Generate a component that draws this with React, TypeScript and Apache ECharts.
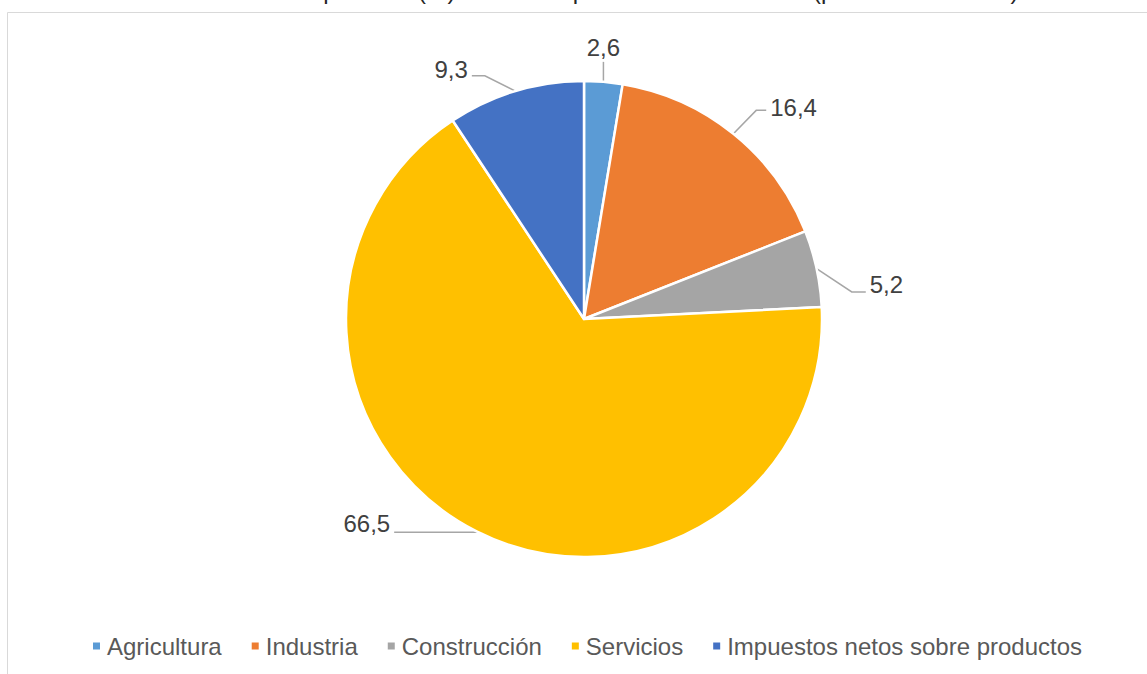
import React, { useEffect, useRef } from "react";
import * as echarts from "echarts";

const titleText = "Estructura de composición (%) del PIB departamental año 2021 (precios corrientes)";
const categories = ["Agricultura", "Industria", "Construcción", "Servicios", "Impuestos netos sobre productos"];
const values = [2.6, 16.4, 5.2, 66.5, 9.3];
const colors = ["#5B9BD5", "#ED7D31", "#A5A5A5", "#FFC000", "#4472C4"];

// leader-line styling per slice (Excel-like placement)
const lineLength = [20, 30, 36, 1, 16];
const lineLength2 = [0, 14, 14, 82, 39];
const lineShiftY = [0, 0, 31, 0, 0];
const elbowShiftX = [0, 4, 0, 0, -26];
const textRaiseY = [0, -3, -7, -9, -6];

export default function App() {
  const ref = useRef<HTMLDivElement>(null);
  useEffect(() => {
    if (!ref.current) return;
    const chart = echarts.init(ref.current, null, { renderer: "svg" });
    chart.setOption({
      animation: false,
      backgroundColor: "#ffffff",
      textStyle: { fontFamily: "Liberation Sans, Arial, sans-serif" },
      graphic: [
        {
          type: "line",
          shape: { x1: 7.5, y1: 12.5, x2: 1147, y2: 12.5 },
          style: { stroke: "#d9d9d9", lineWidth: 1 },
          silent: true,
        },
        {
          type: "line",
          shape: { x1: 7.5, y1: 12.5, x2: 7.5, y2: 674 },
          style: { stroke: "#d9d9d9", lineWidth: 1 },
          silent: true,
        },
        {
          type: "text",
          left: "center",
          top: -22,
          style: {
            text: titleText,
            fontSize: 24,
            fontFamily: "Liberation Sans, Arial, sans-serif",
            fill: "#262626",
          },
          silent: true,
        },
      ],
      legend: {
        data: categories,
        left: 86,
        top: 629,
        orient: "horizontal",
        icon: "rect",
        itemWidth: 9,
        itemHeight: 9,
        itemGap: 28,
        textStyle: { color: "#595959", fontSize: 24, padding: [0, 0, 0, 1] },
        selectedMode: false,
      },
      series: [
        {
          type: "pie",
          center: [584, 319],
          radius: 238,
          startAngle: 90,
          clockwise: true,
          avoidLabelOverlap: false,
          data: categories.map((c, i) => ({
            name: c,
            value: values[i],
            itemStyle: { color: colors[i] },
            labelLine: { length: lineLength[i], length2: lineLength2[i] },
          })),
          itemStyle: { borderColor: "#ffffff", borderWidth: 2.5 },
          label: {
            show: true,
            position: "outside",
            formatter: (p: any) => String(p.value).replace(".", ","),
            color: "#404040",
            fontSize: 24,
            fontFamily: "Liberation Sans, Arial, sans-serif",
            distanceToLabelLine: 4,
          },
          labelLine: {
            show: true,
            lineStyle: { color: "#a6a6a6", width: 1.5 },
          },
          labelLayout: (params: any) => {
            const i = params.dataIndex;
            const pts = params.labelLinePoints;
            if (!pts) return {};
            if (lineLength2[i] === 0) {
              const top = [pts[0][0], pts[1][1]];
              return {
                x: top[0],
                y: top[1] - 2,
                align: "center",
                verticalAlign: "bottom",
                labelLinePoints: [pts[0], top, top],
              };
            }
            const s = lineShiftY[i];
            return {
              dy: s + textRaiseY[i],
              labelLinePoints: [
                pts[0],
                [pts[1][0] + elbowShiftX[i], pts[1][1] + s],
                [pts[2][0], pts[2][1] + s],
              ],
            };
          },
          emphasis: { disabled: true },
        },
      ],
    });
    return () => chart.dispose();
  }, []);
  return (
    <div
      ref={ref}
      style={{ position: "absolute", left: 0, top: 0, width: 1147, height: 674 }}
    />
  );
}
